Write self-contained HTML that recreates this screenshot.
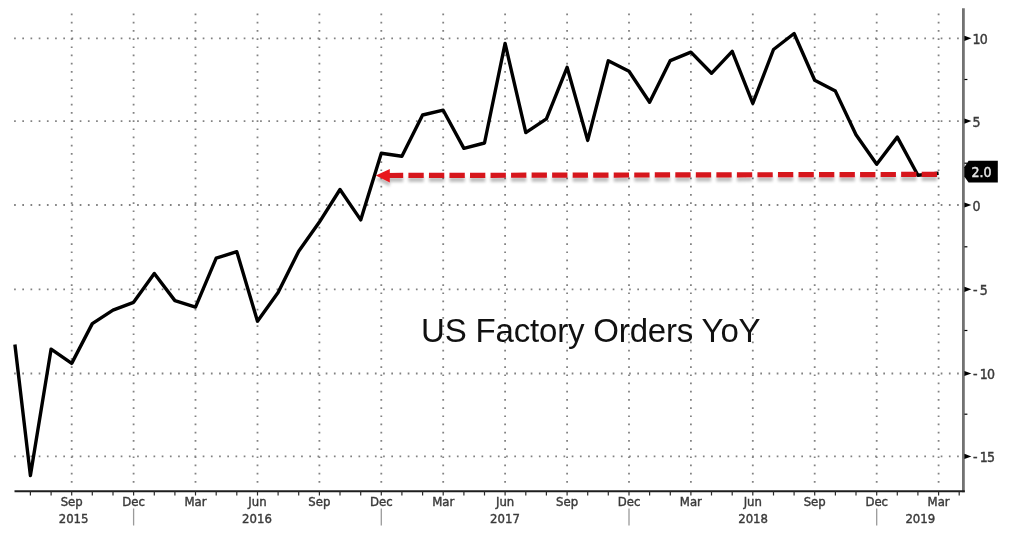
<!DOCTYPE html><html><head><meta charset="utf-8"><style>
html,body{margin:0;padding:0;background:#fff;width:1036px;height:540px;overflow:hidden}
svg{display:block;will-change:transform}
.ax{font-family:"DejaVu Sans Condensed","DejaVu Sans","Liberation Sans",sans-serif;font-size:13px;fill:#3a3a3a;stroke:#3a3a3a;stroke-width:0.4px}
.yl{font-family:"DejaVu Sans Condensed","DejaVu Sans","Liberation Sans",sans-serif;font-size:14px;letter-spacing:-0.8px;fill:#3a3a3a;stroke:#3a3a3a;stroke-width:0.4px}
.tt{font-family:"Liberation Sans",Arial,sans-serif;font-size:33px;letter-spacing:-0.17px;fill:#111}
</style></head><body>
<svg width="1036" height="540" viewBox="0 0 1036 540">
<defs><clipPath id="pc"><rect x="13.5" y="0" width="949.9" height="491.3"/></clipPath>
<filter id="sh" x="-5%" y="-100%" width="110%" height="400%"><feGaussianBlur in="SourceAlpha" stdDeviation="1.8"/><feOffset dx="0" dy="3.6"/><feComponentTransfer><feFuncA type="linear" slope="0.26"/></feComponentTransfer><feMerge><feMergeNode/><feMergeNode in="SourceGraphic"/></feMerge></filter>
</defs>
<line x1="14.1" y1="38.3" x2="960.0" y2="38.3" stroke="#828282" stroke-width="1.8" stroke-dasharray="1.7 6.5"/>
<line x1="14.1" y1="121.1" x2="960.0" y2="121.1" stroke="#828282" stroke-width="1.8" stroke-dasharray="1.7 6.5"/>
<line x1="14.1" y1="205.0" x2="960.0" y2="205.0" stroke="#828282" stroke-width="1.8" stroke-dasharray="1.7 6.5"/>
<line x1="14.1" y1="289.3" x2="960.0" y2="289.3" stroke="#828282" stroke-width="1.8" stroke-dasharray="1.7 6.5"/>
<line x1="14.1" y1="373.5" x2="960.0" y2="373.5" stroke="#828282" stroke-width="1.8" stroke-dasharray="1.7 6.5"/>
<line x1="14.1" y1="456.4" x2="960.0" y2="456.4" stroke="#828282" stroke-width="1.8" stroke-dasharray="1.7 6.5"/>
<line x1="71.7" y1="13.6" x2="71.7" y2="489.3" stroke="#828282" stroke-width="1.8" stroke-dasharray="1.7 6.5"/>
<line x1="133.6" y1="13.6" x2="133.6" y2="489.3" stroke="#828282" stroke-width="1.8" stroke-dasharray="1.7 6.5"/>
<line x1="195.5" y1="13.6" x2="195.5" y2="489.3" stroke="#828282" stroke-width="1.8" stroke-dasharray="1.7 6.5"/>
<line x1="257.5" y1="13.6" x2="257.5" y2="489.3" stroke="#828282" stroke-width="1.8" stroke-dasharray="1.7 6.5"/>
<line x1="319.4" y1="13.6" x2="319.4" y2="489.3" stroke="#828282" stroke-width="1.8" stroke-dasharray="1.7 6.5"/>
<line x1="381.3" y1="13.6" x2="381.3" y2="489.3" stroke="#828282" stroke-width="1.8" stroke-dasharray="1.7 6.5"/>
<line x1="443.2" y1="13.6" x2="443.2" y2="489.3" stroke="#828282" stroke-width="1.8" stroke-dasharray="1.7 6.5"/>
<line x1="505.1" y1="13.6" x2="505.1" y2="489.3" stroke="#828282" stroke-width="1.8" stroke-dasharray="1.7 6.5"/>
<line x1="567.1" y1="13.6" x2="567.1" y2="489.3" stroke="#828282" stroke-width="1.8" stroke-dasharray="1.7 6.5"/>
<line x1="629.0" y1="13.6" x2="629.0" y2="489.3" stroke="#828282" stroke-width="1.8" stroke-dasharray="1.7 6.5"/>
<line x1="690.9" y1="13.6" x2="690.9" y2="489.3" stroke="#828282" stroke-width="1.8" stroke-dasharray="1.7 6.5"/>
<line x1="752.8" y1="13.6" x2="752.8" y2="489.3" stroke="#828282" stroke-width="1.8" stroke-dasharray="1.7 6.5"/>
<line x1="814.7" y1="13.6" x2="814.7" y2="489.3" stroke="#828282" stroke-width="1.8" stroke-dasharray="1.7 6.5"/>
<line x1="876.7" y1="13.6" x2="876.7" y2="489.3" stroke="#828282" stroke-width="1.8" stroke-dasharray="1.7 6.5"/>
<line x1="938.6" y1="13.6" x2="938.6" y2="489.3" stroke="#828282" stroke-width="1.8" stroke-dasharray="1.7 6.5"/>
<text class="tt" x="421" y="342">US Factory Orders YoY</text>
<g><polyline points="14.9,344.5 30.4,475.6 51.1,349.1 71.7,363.4 92.3,323.6 113.0,310.1 133.6,302.3 154.3,273.5 174.9,300.6 195.5,307.1 216.2,258.2 236.8,251.7 257.5,321.2 278.1,292.6 298.7,251.2 319.4,222.1 340.0,189.5 360.7,219.9 381.3,153.2 401.9,156.3 422.6,115.0 443.2,110.2 463.9,148.4 484.5,143.0 505.1,43.4 525.8,132.6 546.4,118.8 567.1,67.3 587.7,140.4 608.3,60.8 629.0,71.2 649.6,102.3 670.3,60.6 690.9,52.1 711.5,73.3 732.2,51.3 752.8,103.4 773.5,49.5 794.1,33.5 814.7,80.2 835.4,91.1 856.0,134.8 876.7,164.3 897.3,137.1 917.9,175.3 938.6,173.2" fill="none" stroke="#000" stroke-width="3.4" stroke-linejoin="round" stroke-linecap="butt"/></g>
<g filter="url(#sh)">
<line x1="387.9" y1="175.5" x2="938.3" y2="174.4" stroke="#d6131d" stroke-width="5.2" stroke-dasharray="15.3 5.23"/>
<path d="M375.8,175.5 L389.8,168.9 L389.8,182.4 Z" fill="#e8161e"/>
</g>
<line x1="963.4" y1="8.3" x2="963.4" y2="492.3" stroke="#727272" stroke-width="2.8"/>
<line x1="14.5" y1="491.3" x2="964.8" y2="491.3" stroke="#1e1e1e" stroke-width="1.9"/>
<line x1="30.4" y1="491.3" x2="30.4" y2="495.5" stroke="#2a2a2a" stroke-width="1.2"/>
<line x1="51.1" y1="491.3" x2="51.1" y2="495.5" stroke="#2a2a2a" stroke-width="1.2"/>
<line x1="71.7" y1="491.3" x2="71.7" y2="495.5" stroke="#2a2a2a" stroke-width="1.2"/>
<line x1="92.3" y1="491.3" x2="92.3" y2="495.5" stroke="#2a2a2a" stroke-width="1.2"/>
<line x1="113.0" y1="491.3" x2="113.0" y2="495.5" stroke="#2a2a2a" stroke-width="1.2"/>
<line x1="133.6" y1="491.3" x2="133.6" y2="495.5" stroke="#2a2a2a" stroke-width="1.2"/>
<line x1="154.3" y1="491.3" x2="154.3" y2="495.5" stroke="#2a2a2a" stroke-width="1.2"/>
<line x1="174.9" y1="491.3" x2="174.9" y2="495.5" stroke="#2a2a2a" stroke-width="1.2"/>
<line x1="195.5" y1="491.3" x2="195.5" y2="495.5" stroke="#2a2a2a" stroke-width="1.2"/>
<line x1="216.2" y1="491.3" x2="216.2" y2="495.5" stroke="#2a2a2a" stroke-width="1.2"/>
<line x1="236.8" y1="491.3" x2="236.8" y2="495.5" stroke="#2a2a2a" stroke-width="1.2"/>
<line x1="257.5" y1="491.3" x2="257.5" y2="495.5" stroke="#2a2a2a" stroke-width="1.2"/>
<line x1="278.1" y1="491.3" x2="278.1" y2="495.5" stroke="#2a2a2a" stroke-width="1.2"/>
<line x1="298.7" y1="491.3" x2="298.7" y2="495.5" stroke="#2a2a2a" stroke-width="1.2"/>
<line x1="319.4" y1="491.3" x2="319.4" y2="495.5" stroke="#2a2a2a" stroke-width="1.2"/>
<line x1="340.0" y1="491.3" x2="340.0" y2="495.5" stroke="#2a2a2a" stroke-width="1.2"/>
<line x1="360.7" y1="491.3" x2="360.7" y2="495.5" stroke="#2a2a2a" stroke-width="1.2"/>
<line x1="381.3" y1="491.3" x2="381.3" y2="495.5" stroke="#2a2a2a" stroke-width="1.2"/>
<line x1="401.9" y1="491.3" x2="401.9" y2="495.5" stroke="#2a2a2a" stroke-width="1.2"/>
<line x1="422.6" y1="491.3" x2="422.6" y2="495.5" stroke="#2a2a2a" stroke-width="1.2"/>
<line x1="443.2" y1="491.3" x2="443.2" y2="495.5" stroke="#2a2a2a" stroke-width="1.2"/>
<line x1="463.9" y1="491.3" x2="463.9" y2="495.5" stroke="#2a2a2a" stroke-width="1.2"/>
<line x1="484.5" y1="491.3" x2="484.5" y2="495.5" stroke="#2a2a2a" stroke-width="1.2"/>
<line x1="505.1" y1="491.3" x2="505.1" y2="495.5" stroke="#2a2a2a" stroke-width="1.2"/>
<line x1="525.8" y1="491.3" x2="525.8" y2="495.5" stroke="#2a2a2a" stroke-width="1.2"/>
<line x1="546.4" y1="491.3" x2="546.4" y2="495.5" stroke="#2a2a2a" stroke-width="1.2"/>
<line x1="567.1" y1="491.3" x2="567.1" y2="495.5" stroke="#2a2a2a" stroke-width="1.2"/>
<line x1="587.7" y1="491.3" x2="587.7" y2="495.5" stroke="#2a2a2a" stroke-width="1.2"/>
<line x1="608.3" y1="491.3" x2="608.3" y2="495.5" stroke="#2a2a2a" stroke-width="1.2"/>
<line x1="629.0" y1="491.3" x2="629.0" y2="495.5" stroke="#2a2a2a" stroke-width="1.2"/>
<line x1="649.6" y1="491.3" x2="649.6" y2="495.5" stroke="#2a2a2a" stroke-width="1.2"/>
<line x1="670.3" y1="491.3" x2="670.3" y2="495.5" stroke="#2a2a2a" stroke-width="1.2"/>
<line x1="690.9" y1="491.3" x2="690.9" y2="495.5" stroke="#2a2a2a" stroke-width="1.2"/>
<line x1="711.5" y1="491.3" x2="711.5" y2="495.5" stroke="#2a2a2a" stroke-width="1.2"/>
<line x1="732.2" y1="491.3" x2="732.2" y2="495.5" stroke="#2a2a2a" stroke-width="1.2"/>
<line x1="752.8" y1="491.3" x2="752.8" y2="495.5" stroke="#2a2a2a" stroke-width="1.2"/>
<line x1="773.5" y1="491.3" x2="773.5" y2="495.5" stroke="#2a2a2a" stroke-width="1.2"/>
<line x1="794.1" y1="491.3" x2="794.1" y2="495.5" stroke="#2a2a2a" stroke-width="1.2"/>
<line x1="814.7" y1="491.3" x2="814.7" y2="495.5" stroke="#2a2a2a" stroke-width="1.2"/>
<line x1="835.4" y1="491.3" x2="835.4" y2="495.5" stroke="#2a2a2a" stroke-width="1.2"/>
<line x1="856.0" y1="491.3" x2="856.0" y2="495.5" stroke="#2a2a2a" stroke-width="1.2"/>
<line x1="876.7" y1="491.3" x2="876.7" y2="495.5" stroke="#2a2a2a" stroke-width="1.2"/>
<line x1="897.3" y1="491.3" x2="897.3" y2="495.5" stroke="#2a2a2a" stroke-width="1.2"/>
<line x1="917.9" y1="491.3" x2="917.9" y2="495.5" stroke="#2a2a2a" stroke-width="1.2"/>
<line x1="938.6" y1="491.3" x2="938.6" y2="495.5" stroke="#2a2a2a" stroke-width="1.2"/>
<line x1="959.2" y1="491.3" x2="959.2" y2="495.5" stroke="#2a2a2a" stroke-width="1.2"/>
<path d="M964.4,35.7 L971.4,38.3 L964.4,40.9 Z" fill="#000"/>
<text class="yl" x="972.6" y="43.8">10</text>
<path d="M964.4,118.5 L971.4,121.1 L964.4,123.7 Z" fill="#000"/>
<text class="yl" x="972.6" y="126.6">5</text>
<path d="M964.4,202.4 L971.4,205.0 L964.4,207.6 Z" fill="#000"/>
<text class="yl" x="972.6" y="210.5">0</text>
<path d="M964.4,286.7 L971.4,289.3 L964.4,291.9 Z" fill="#000"/>
<text class="yl" x="973.0" y="294.8">-</text>
<text class="yl" x="979.8" y="294.8">5</text>
<path d="M964.4,370.9 L971.4,373.5 L964.4,376.1 Z" fill="#000"/>
<text class="yl" x="973.0" y="379.0">-</text>
<text class="yl" x="979.8" y="379.0">10</text>
<path d="M964.4,453.8 L971.4,456.4 L964.4,459.0 Z" fill="#000"/>
<text class="yl" x="973.0" y="461.9">-</text>
<text class="yl" x="979.8" y="461.9">15</text>
<line x1="964.4" y1="79.5" x2="967.4" y2="79.5" stroke="#000" stroke-width="1.2"/>
<line x1="964.4" y1="163.2" x2="967.4" y2="163.2" stroke="#000" stroke-width="1.2"/>
<line x1="964.4" y1="246.8" x2="967.4" y2="246.8" stroke="#000" stroke-width="1.2"/>
<line x1="964.4" y1="330.5" x2="967.4" y2="330.5" stroke="#000" stroke-width="1.2"/>
<line x1="964.4" y1="414.2" x2="967.4" y2="414.2" stroke="#000" stroke-width="1.2"/>
<text class="ax" x="71.7" y="506.3" text-anchor="middle">Sep</text>
<text class="ax" x="133.6" y="506.3" text-anchor="middle">Dec</text>
<text class="ax" x="195.5" y="506.3" text-anchor="middle">Mar</text>
<text class="ax" x="257.5" y="506.3" text-anchor="middle">Jun</text>
<text class="ax" x="319.4" y="506.3" text-anchor="middle">Sep</text>
<text class="ax" x="381.3" y="506.3" text-anchor="middle">Dec</text>
<text class="ax" x="443.2" y="506.3" text-anchor="middle">Mar</text>
<text class="ax" x="505.1" y="506.3" text-anchor="middle">Jun</text>
<text class="ax" x="567.1" y="506.3" text-anchor="middle">Sep</text>
<text class="ax" x="629.0" y="506.3" text-anchor="middle">Dec</text>
<text class="ax" x="690.9" y="506.3" text-anchor="middle">Mar</text>
<text class="ax" x="752.8" y="506.3" text-anchor="middle">Jun</text>
<text class="ax" x="814.7" y="506.3" text-anchor="middle">Sep</text>
<text class="ax" x="876.7" y="506.3" text-anchor="middle">Dec</text>
<text class="ax" x="938.6" y="506.3" text-anchor="middle">Mar</text>
<text class="ax" x="73.6" y="522.6" text-anchor="middle">2015</text>
<text class="ax" x="257.0" y="522.6" text-anchor="middle">2016</text>
<text class="ax" x="505.0" y="522.6" text-anchor="middle">2017</text>
<text class="ax" x="753.1" y="522.6" text-anchor="middle">2018</text>
<text class="ax" x="920.3" y="522.6" text-anchor="middle">2019</text>
<line x1="133.6" y1="508.5" x2="133.6" y2="525.5" stroke="#9a9a9a" stroke-width="1.3"/>
<line x1="381.3" y1="508.5" x2="381.3" y2="525.5" stroke="#9a9a9a" stroke-width="1.3"/>
<line x1="629.0" y1="508.5" x2="629.0" y2="525.5" stroke="#9a9a9a" stroke-width="1.3"/>
<line x1="876.7" y1="508.5" x2="876.7" y2="525.5" stroke="#9a9a9a" stroke-width="1.3"/>
<path d="M968.6,160.8 L997.8,160.8 L997.8,182.6 L968.6,182.6 L964.3,176.5 L964.3,167.2 Z" fill="#000"/>
<text x="981.6" y="177.3" text-anchor="middle" style="font-family:'DejaVu Sans Condensed','DejaVu Sans',sans-serif;font-size:14px;fill:#e6e6e6;stroke:#e6e6e6;stroke-width:0.45px">2.0</text>
</svg></body></html>
